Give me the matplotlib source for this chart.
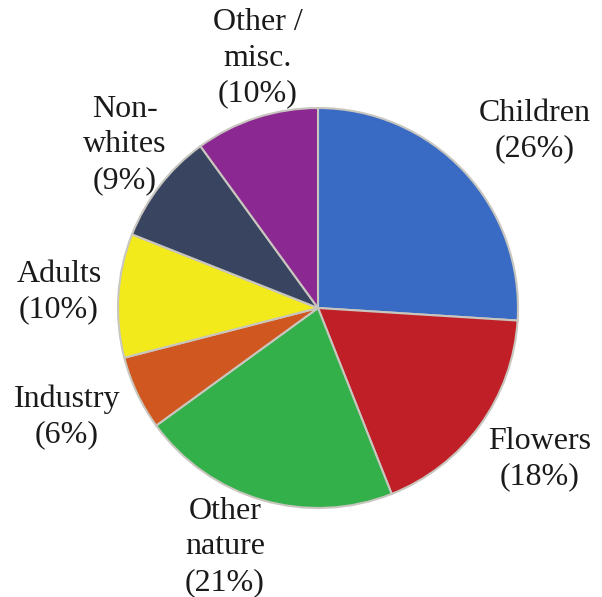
import matplotlib.pyplot as plt

# Share of photographs by subject
labels = ['Children', 'Flowers', 'Other\nnature', 'Industry', 'Adults', 'Non-\nwhites', 'Other /\nmisc.']
shares = [26, 18, 21, 6, 10, 9, 10]
colors = ['#3A6BC4', '#C11F27', '#34B04A', '#D0571F', '#F2EA1B', '#394560', '#8B2891']

# label anchor positions in units of pie radius
label_xy = [(1.085, 0.885), (1.11, -0.755), (-0.465, -1.195), (-1.255, -0.545),
            (-1.295, 0.08), (-0.965, 0.815), (-0.30, 1.25)]


def main():
    plt.rcParams['font.family'] = ['Liberation Serif', 'DejaVu Serif']
    fig = plt.figure(figsize=(6.02, 5.97), dpi=100)
    ax = fig.add_axes([0, 0, 1, 1])

    ax.pie(shares, colors=colors, startangle=90, counterclock=False, radius=1.0,
           wedgeprops=dict(edgecolor='#C8C6BE', linewidth=1.5))

    for lab, val, (x, y) in zip(labels, shares, label_xy):
        ax.text(x, y, '{}\n({}%)'.format(lab, val), ha='center', va='center',
                fontsize=23, linespacing=1.3, color='#1a1a1a')

    ax.set_xlim(-1.59, 1.42)
    ax.set_ylim(-1.445, 1.54)
    ax.set_aspect('auto')
    ax.axis('off')
    fig.savefig('out.png', dpi=100)


if __name__ == "__main__":
    main()
